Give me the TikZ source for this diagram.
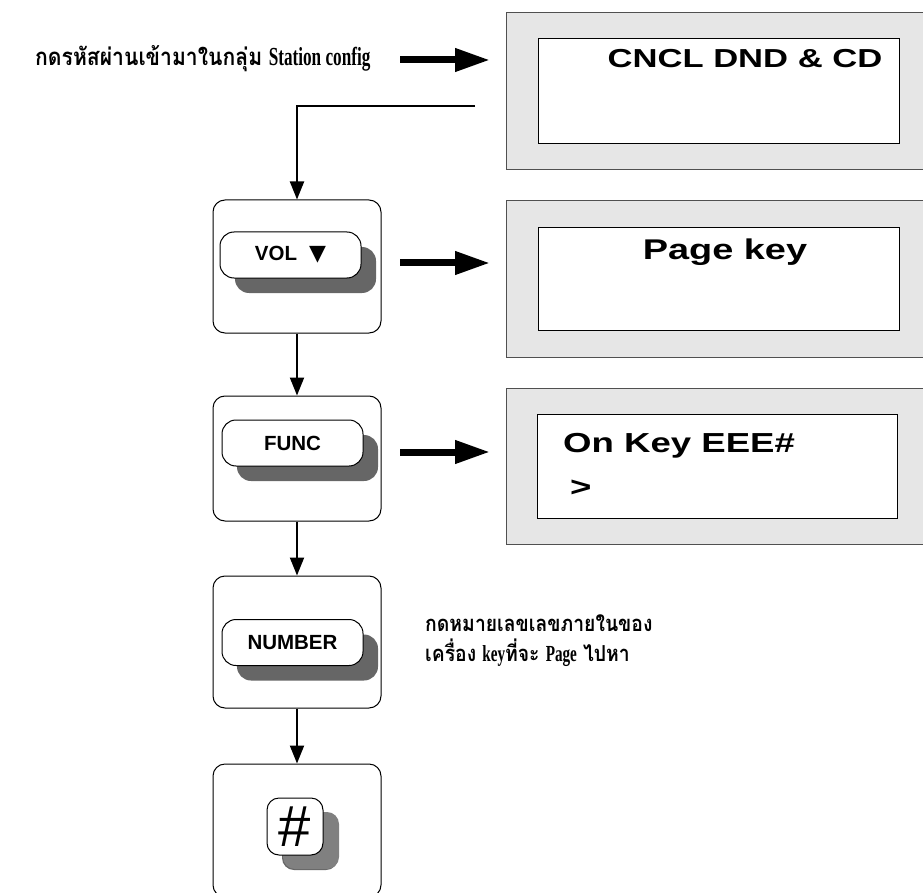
\documentclass[tikz,border=0pt]{standalone}
\usepackage{fontspec}
\setmainfont{Liberation Sans}
\newfontfamily\thaifont[Script=Thai, FakeStretch=0.88]{Loma}
\newfontfamily\romanfont[FakeStretch=0.66]{Liberation Serif}
\newfontfamily\lcdfont[FakeStretch=1.33]{Liberation Sans}
\newfontfamily\symfont{DejaVu Sans}
\usetikzlibrary{positioning,arrows.meta,calc,shadows}
\usepackage{xcolor}
\definecolor{lcdGray}{HTML}{E6E6E6}
\definecolor{frameGray}{HTML}{505050}
\definecolor{capShadow}{HTML}{666666}
\definecolor{hashShadow}{HTML}{808080}

\begin{document}
\begin{tikzpicture}[x=1pt, y=-1pt,
        keyPanel/.style={draw=black, line width=1pt, rounded corners=12pt, minimum width=168pt, inner sep=0pt},
        keyCap/.style={draw=black, fill=white, line width=1pt, rounded corners=14pt, minimum width=141pt, minimum height=46pt, inner sep=0pt, font=\bfseries\fontsize{20.5}{24}\selectfont, drop shadow={shadow xshift=15pt, shadow yshift=-15pt, fill=capShadow, opacity=1}},
        lcdFrame/.style={draw=frameGray, fill=lcdGray, line width=1pt, anchor=north west, minimum width=440pt, minimum height=157pt, inner sep=0pt},
        lcdScreen/.style={draw=black, fill=white, line width=0.8pt, anchor=north west, minimum width=361pt, inner sep=0pt},
        lcdText/.style={font=\lcdfont\bfseries\fontsize{26}{30}\selectfont, inner sep=0pt},
        thaiText/.style={font=\fontsize{22}{30}\selectfont, inner sep=0pt},
        flowArrow/.style={-{Triangle[length=18pt,width=14pt]}, line width=2pt},
        bigArrow/.style={-{Triangle[length=35pt,width=22pt]}, line width=7pt, shorten >=16pt}
    ]
        \useasboundingbox (0,0) rectangle (923,893);
        \clip (0,0) rectangle (923,893);

        % Displays
        \node[lcdFrame] (lcdOne) at (506,12) {};
        \node[lcdScreen, minimum height=105pt] (screenOne) at (538,38) {};
        \node[lcdText] (cnclText) at (745,59) {CNCL DND \& CD};

        \node[lcdFrame] (lcdTwo) at (506,200) {};
        \node[lcdScreen, minimum height=103pt] (screenTwo) at (538,227) {};
        \node[lcdText, font=\lcdfont\bfseries\fontsize{28.5}{30}\selectfont] (pageText) at (725,252) {Page key};

        \node[lcdFrame, minimum height=156pt] (lcdThree) at (506,388) {};
        \node[lcdScreen, minimum width=360pt, minimum height=104pt] (screenThree) at (537,414) {};
        \node[lcdText, font=\lcdfont\bfseries\fontsize{27.5}{30}\selectfont, anchor=west] (onKeyText) at (563,446) {On Key EEE\#};
        \node[lcdText, font=\lcdfont\bfseries\fontsize{27.5}{30}\selectfont, anchor=west] (promptText) at (570,488) {>};

        % Key panels
        \node[keyPanel, minimum height=133pt] (volPanel) at (297,266.5) {};
        \node[keyCap] (volKey) at (290.5,255) {VOL\hspace{12pt}{\symfont\fontsize{22}{24}\selectfont ▼}};

        \node[keyPanel, minimum height=125pt] (funcPanel) at (297,458.5) {};
        \node[keyCap] (funcKey) at (292.5,443) {FUNC};

        \node[keyPanel, minimum height=132pt] (numPanel) at (297,642) {};
        \node[keyCap] (numKey) at (292.5,642.5) {NUMBER};

        \node[keyPanel, minimum height=133pt] (hashPanel) at (297,830.5) {};
        \node[keyCap, minimum width=56pt, minimum height=57pt, rounded corners=12pt, font=\fontsize{58}{60}\selectfont, drop shadow={shadow xshift=16pt, shadow yshift=-14pt, fill=hashShadow, opacity=1}] (hashKey) at (295,826.5) {\#};

        % Texts
        \node[thaiText, font=\fontsize{24}{30}\selectfont, anchor=west] (titleText) at (35,59) {{\thaifont\bfseries กดรหัสผ่านเข้ามาในกลุ่ม} {\romanfont\bfseries\fontsize{26}{30}\selectfont Station config}};
        \node[thaiText, anchor=north west, align=left] (noteText) at (425,615) {{\thaifont\bfseries กดหมายเลขเลขภายในของ}\\{\thaifont\bfseries เครื่อง} {\romanfont\bfseries\fontsize{23}{30}\selectfont key}{\thaifont\bfseries ที่จะ} {\romanfont\bfseries\fontsize{23}{30}\selectfont Page} {\thaifont\bfseries ไปหา}};

        % Connectors
        \coordinate (lcdExit) at (475,106);
        \draw[flowArrow] (lcdExit) -| (volPanel.north);
        \draw[flowArrow] (volPanel.south) -- (funcPanel.north);
        \draw[flowArrow] (funcPanel.south) -- (numPanel.north);
        \draw[flowArrow] (numPanel.south) -- (hashPanel.north);

        \coordinate (titleArrow) at (400,60);
        \coordinate (volArrow) at (400,263);
        \coordinate (funcArrow) at (400,452);
        \draw[bigArrow] (titleArrow) -- (titleArrow -| lcdOne.west);
        \draw[bigArrow] (volArrow) -- (volArrow -| lcdTwo.west);
        \draw[bigArrow] (funcArrow) -- (funcArrow -| lcdThree.west);
    \end{tikzpicture}
\end{document}
